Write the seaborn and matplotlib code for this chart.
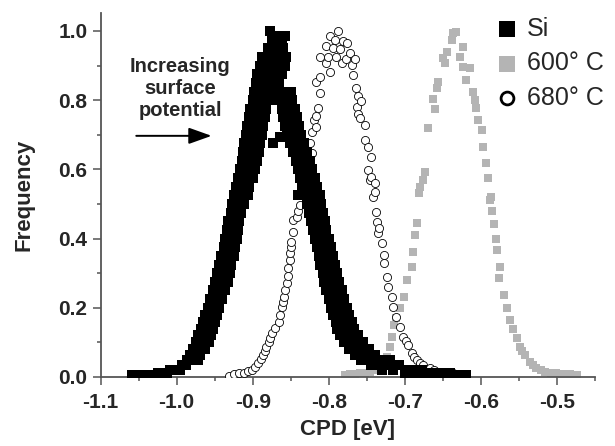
import matplotlib
matplotlib.use("Agg")
import matplotlib.pyplot as plt
import seaborn as sns
import pandas as pd

# ---------------- data ----------------
# Si: frequency levels and the CPD values of the squares found at each level
si_levels = [0.005, 0.011, 0.02, 0.035, 0.05, 0.065, 0.08, 0.1, 0.12, 0.14, 0.16, 0.18,
             0.2, 0.225, 0.25, 0.275, 0.3, 0.325, 0.35, 0.375, 0.4, 0.425, 0.45, 0.475,
             0.5, 0.525, 0.55, 0.575, 0.6, 0.625, 0.65, 0.675, 0.7, 0.725, 0.75, 0.775,
             0.8, 0.825, 0.85, 0.875, 0.9, 0.925, 0.95, 0.97, 0.985, 1.0]
si_rising = [[-1.058, -1.05, -1.042, -1.035, -1.028], [-1.025, -1.018, -1.012], [-1.008, -1.0, -0.995],
             [-0.993, -0.988], [-0.986, -0.978, -0.972], [-0.982, -0.975, -0.969], [-0.978, -0.970, -0.963],
             [-0.975, -0.966, -0.958], [-0.972, -0.963, -0.955], [-0.968, -0.960, -0.952],
             [-0.965, -0.957, -0.950], [-0.962, -0.954, -0.947], [-0.959, -0.951, -0.944],
             [-0.956, -0.948, -0.940], [-0.952, -0.944, -0.936], [-0.949, -0.941, -0.933],
             [-0.947, -0.939, -0.930], [-0.944, -0.936, -0.928], [-0.941, -0.933, -0.925],
             [-0.938, -0.930, -0.923], [-0.936, -0.928, -0.921], [-0.934, -0.926, -0.919],
             [-0.932, -0.925, -0.918], [-0.929, -0.922, -0.915], [-0.927, -0.919, -0.911],
             [-0.924, -0.916, -0.906], [-0.922, -0.914, -0.905], [-0.919, -0.910, -0.900],
             [-0.917, -0.908, -0.897], [-0.914, -0.905, -0.894], [-0.913, -0.903, -0.892],
             [-0.911, -0.901, -0.890], [-0.909, -0.899, -0.888], [-0.907, -0.897, -0.886],
             [-0.905, -0.895, -0.884], [-0.903, -0.893, -0.882], [-0.900, -0.890, -0.879],
             [-0.898, -0.888, -0.877], [-0.896, -0.885, -0.874, -0.865], [-0.894, -0.883, -0.872, -0.862],
             [-0.891, -0.880, -0.869, -0.858], [-0.888, -0.877, -0.866, -0.856],
             [-0.880, -0.870, -0.860], [-0.875, -0.862], [-0.870, -0.857], [-0.877]]
si_falling = [[-0.660, -0.645, -0.630, -0.620], [-0.700, -0.688, -0.676, -0.664, -0.652, -0.640],
              [-0.730, -0.715, -0.700, -0.688, -0.678], [-0.745, -0.732, -0.720, -0.708],
              [-0.758, -0.744, -0.730, -0.720], [-0.766, -0.752, -0.739], [-0.774, -0.760, -0.747],
              [-0.780, -0.767, -0.755], [-0.785, -0.773, -0.761], [-0.789, -0.778, -0.767],
              [-0.791, -0.780, -0.769], [-0.795, -0.784, -0.774], [-0.797, -0.786, -0.776],
              [-0.800, -0.790, -0.780], [-0.803, -0.793, -0.783], [-0.806, -0.796, -0.786],
              [-0.808, -0.798, -0.789], [-0.811, -0.801, -0.792], [-0.813, -0.804, -0.795],
              [-0.816, -0.806, -0.797], [-0.818, -0.809, -0.800], [-0.821, -0.812, -0.803],
              [-0.823, -0.814, -0.805], [-0.826, -0.816, -0.807], [-0.828, -0.819, -0.810],
              [-0.831, -0.822, -0.812], [-0.835, -0.825, -0.815], [-0.838, -0.828, -0.818],
              [-0.840, -0.831, -0.822], [-0.843, -0.834, -0.825], [-0.847, -0.838, -0.829],
              [-0.851, -0.842, -0.833], [-0.855, -0.846, -0.837], [-0.857, -0.848, -0.839],
              [-0.860, -0.851, -0.842], [-0.862, -0.853, -0.844], [-0.865, -0.856, -0.848],
              [-0.866, -0.858, -0.850], [], [], [], [], [], [], [], []]
si_extra_cpd = [-0.873, -0.864, -0.840]
si_extra_freq = [0.675, 0.694, 0.526]

# 600 deg C (grey squares)
c600_cpd = [-0.779, -0.776, -0.772, -0.766, -0.759, -0.752, -0.746, -0.740, -0.733, -0.728, -0.724,
            -0.720, -0.717, -0.714, -0.711, -0.706, -0.701, -0.697, -0.691, -0.689, -0.687, -0.684,
            -0.682, -0.680, -0.676, -0.674, -0.669, -0.663, -0.660, -0.658, -0.656, -0.650, -0.647,
            -0.644, -0.638, -0.636, -0.633, -0.628, -0.624, -0.623, -0.620, -0.614, -0.610, -0.608,
            -0.607, -0.604, -0.599, -0.597, -0.593, -0.590, -0.588, -0.587, -0.585, -0.583, -0.580,
            -0.579, -0.576, -0.575, -0.570, -0.566, -0.562, -0.558, -0.553, -0.549, -0.546, -0.542,
            -0.536, -0.531, -0.527, -0.521, -0.516, -0.508, -0.501, -0.495, -0.489, -0.483, -0.478,
            -0.474]
c600_freq = [0.006, 0.007, 0.008, 0.009, 0.011, 0.012, 0.015, 0.020, 0.030, 0.040, 0.059,
             0.088, 0.117, 0.150, 0.170, 0.199, 0.232, 0.280, 0.319, 0.362, 0.410, 0.444,
             0.531, 0.550, 0.569, 0.593, 0.719, 0.803, 0.774, 0.834, 0.853, 0.921, 0.907,
             0.940, 0.974, 0.993, 0.998, 0.926, 0.955, 0.897, 0.858, 0.892, 0.825, 0.801,
             0.777, 0.743, 0.714, 0.666, 0.618, 0.574, 0.512, 0.521, 0.481, 0.442, 0.398,
             0.367, 0.285, 0.317, 0.237, 0.199, 0.165, 0.138, 0.112, 0.088, 0.075, 0.064,
             0.044, 0.034, 0.025, 0.020, 0.015, 0.013, 0.011, 0.010, 0.009, 0.008, 0.007,
             0.006]

# 680 deg C (open circles)
c680_cpd = [-0.931, -0.925, -0.918, -0.912, -0.906, -0.901, -0.897, -0.893, -0.889, -0.886, -0.884,
            -0.882, -0.879, -0.877, -0.874, -0.871, -0.866, -0.864, -0.862, -0.860, -0.859, -0.857,
            -0.855, -0.854, -0.853, -0.851, -0.851, -0.849, -0.849, -0.847, -0.847, -0.842, -0.840,
            -0.838, -0.836, -0.834, -0.833, -0.830, -0.825, -0.822, -0.822, -0.819, -0.817, -0.817,
            -0.814, -0.812, -0.817, -0.812, -0.803, -0.812, -0.804, -0.801, -0.798, -0.798, -0.794,
            -0.792, -0.790, -0.788, -0.785, -0.783, -0.781, -0.777, -0.776, -0.772, -0.770, -0.768,
            -0.766, -0.764, -0.763, -0.761, -0.761, -0.759, -0.757, -0.752, -0.752, -0.748, -0.748,
            -0.746, -0.744, -0.744, -0.742, -0.739, -0.739, -0.738, -0.736, -0.735, -0.734, -0.730,
            -0.728, -0.727, -0.724, -0.722, -0.717, -0.715, -0.711, -0.706, -0.702, -0.699, -0.696,
            -0.691, -0.688, -0.684, -0.680, -0.676, -0.667, -0.662, -0.658, -0.648, -0.636, -0.628,
            -0.619]
c680_freq = [0.004, 0.009, 0.011, 0.013, 0.017, 0.020, 0.030, 0.040, 0.052, 0.064, 0.076,
             0.088, 0.100, 0.112, 0.126, 0.141, 0.160, 0.180, 0.203, 0.218, 0.232, 0.250,
             0.271, 0.292, 0.314, 0.338, 0.357, 0.375, 0.391, 0.420, 0.454, 0.463, 0.480,
             0.497, 0.530, 0.560, 0.590, 0.620, 0.675, 0.646, 0.709, 0.743, 0.722, 0.754,
             0.777, 0.822, 0.853, 0.868, 0.907, 0.926, 0.957, 0.926, 0.882, 0.986, 0.950,
             0.974, 0.926, 1.000, 0.947, 0.907, 0.972, 0.918, 0.964, 0.937, 0.902, 0.873,
             0.918, 0.834, 0.781, 0.812, 0.760, 0.748, 0.799, 0.728, 0.685, 0.666, 0.598,
             0.569, 0.637, 0.579, 0.521, 0.560, 0.536, 0.478, 0.449, 0.415, 0.430, 0.386,
             0.353, 0.329, 0.290, 0.261, 0.232, 0.203, 0.174, 0.145, 0.116, 0.104, 0.092,
             0.068, 0.058, 0.049, 0.040, 0.035, 0.025, 0.020, 0.015, 0.012, 0.011, 0.009,
             0.006]

x_ticks = [-1.1, -1.0, -0.9, -0.8, -0.7, -0.6, -0.5]
y_ticks = [0.0, 0.2, 0.4, 0.6, 0.8, 1.0]
labels = ["Si", "600° C", "680° C"]

# ---------------- build tables ----------------
si_cpd, si_freq = [], []
for lev, xs_r, xs_f in zip(si_levels, si_rising, si_falling):
    for v in xs_r + xs_f:
        si_cpd.append(v)
        si_freq.append(lev)
si_cpd += si_extra_cpd
si_freq += si_extra_freq
df_si = pd.DataFrame({"CPD": si_cpd, "Frequency": si_freq})
df_600 = pd.DataFrame({"CPD": c600_cpd, "Frequency": c600_freq})
df_680 = pd.DataFrame({"CPD": c680_cpd, "Frequency": c680_freq})

# ---------------- style ----------------
sns.set_style("ticks")
plt.rcParams["font.family"] = ["Liberation Sans", "DejaVu Sans"]

fig = plt.figure(figsize=(6.15, 4.46), dpi=100)
ax = fig.add_axes([100.5 / 615, 69 / 446, 494.5 / 615, 364 / 446])

sns.scatterplot(data=df_si, x="CPD", y="Frequency", ax=ax, marker="s", s=42,
                color="black", edgecolor="black", linewidth=0, label=labels[0], zorder=4)
sns.scatterplot(data=df_600, x="CPD", y="Frequency", ax=ax, marker="s", s=34,
                color="#b4b4b4", edgecolor="#b4b4b4", linewidth=0, label=labels[1], zorder=2)
sns.scatterplot(data=df_680, x="CPD", y="Frequency", ax=ax, marker="o", s=34,
                facecolor="white", edgecolor="black", linewidth=0.6, label=labels[2], zorder=3)

ax.set_xlim(-1.1, -0.45)
ax.set_ylim(0, 1.052)
ax.set_xticks(x_ticks)
ax.set_yticks(y_ticks)
ax.set_xticklabels([f"{t:.1f}" for t in x_ticks])
ax.set_yticklabels([f"{t:.1f}" for t in y_ticks])
ax.set_xticks([-1.05, -0.95, -0.85, -0.75, -0.65, -0.55, -0.45], minor=True)
ax.set_yticks([0.1, 0.3, 0.5, 0.7, 0.9], minor=True)

for sp in ["top", "right"]:
    ax.spines[sp].set_visible(False)
for sp in ["left", "bottom"]:
    ax.spines[sp].set_color("#555555")
    ax.spines[sp].set_linewidth(1.3)
ax.tick_params(axis="both", which="major", direction="out", length=5.5, width=1.1,
               color="#555555", labelsize=15)
ax.tick_params(axis="both", which="minor", direction="out", length=3, width=1.1,
               color="#555555")
ax.tick_params(axis="x", which="major", pad=6)
ax.tick_params(axis="y", which="major", pad=4)
for lab in ax.get_xticklabels() + ax.get_yticklabels():
    lab.set_fontweight("bold")

ax.set_xlabel("CPD [eV]", fontsize=16, fontweight="bold", labelpad=5)
ax.set_ylabel("Frequency", fontsize=16, fontweight="bold", labelpad=17)

ax.text(-0.995, 0.835, "Increasing\nsurface\npotential", ha="center", va="center",
        fontsize=14.5, fontweight="bold", linespacing=1.2)
ax.annotate("", xy=(-0.954, 0.697), xytext=(-1.053, 0.697),
            arrowprops=dict(arrowstyle="-|>,head_length=1.4,head_width=0.5",
                            color="black", lw=1.4, shrinkA=0, shrinkB=0))

leg = ax.legend(loc="upper left", bbox_to_anchor=(497 / 615, 0.962),
                bbox_transform=fig.transFigure, frameon=False, fontsize=18,
                handlelength=0.8, handletextpad=0.4, borderpad=0, borderaxespad=0,
                labelspacing=0.42)
hs = leg.legend_handles
hs[0].set_sizes([120])
hs[1].set_sizes([120])
hs[2].set_sizes([85])
hs[2].set_linewidth(2.0)

fig.savefig("out.png", dpi=100)
